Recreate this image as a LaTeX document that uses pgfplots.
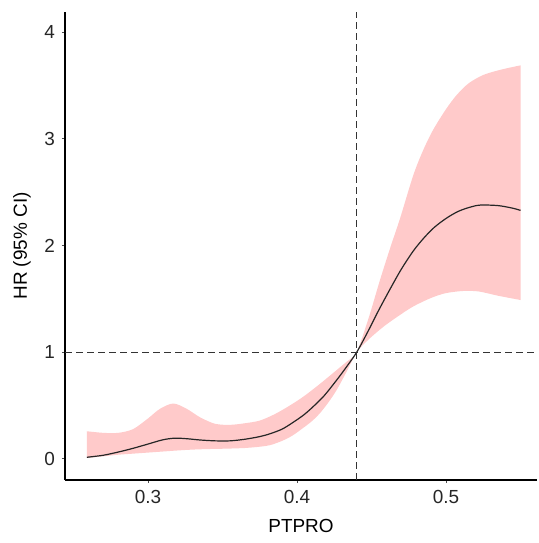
\documentclass[border=0pt]{standalone}
\usepackage{pgfplots}
\pgfplotsset{compat=1.18}
\usepgfplotslibrary{fillbetween}
\usepackage{fontspec}
\setmainfont{Liberation Sans}
\definecolor{bandfill}{HTML}{FFCACA}
\begin{document}
\begin{tikzpicture}
\begin{axis}[
  scale only axis,
  width=236bp, height=234bp,
  xmin=0.2443, xmax=0.561,
  ymin=-0.197, ymax=4.19,
  axis lines*=left,
  axis line style={line width=1.2bp, -},
  xtick={0.3,0.4,0.5},
  ytick={0,1,2,3,4},
  xticklabels={0.3,0.4,0.5},
  yticklabels={0,1,2,3,4},
  tick align=outside,
  major tick length=1.5bp,
  tick style={line width=0.5bp, black!70},
  ticklabel style={font=\fontsize{9.5}{10}\selectfont, text=black!85},
  xlabel={PTPRO}, ylabel={HR (95\% CI)},
  label style={font=\fontsize{9.5}{10}\selectfont},
  xlabel style={yshift=-1bp},
  clip=false,
]
\coordinate (SW) at (rel axis cs:0,0);
\coordinate (NE) at (rel axis cs:1,1);
\addplot[name path=upper, draw=none, smooth] coordinates {
(0.259,0.26) (0.27,0.245) (0.28,0.245) (0.29,0.28) (0.30,0.38) (0.308,0.47)
(0.317,0.52) (0.326,0.47) (0.335,0.39) (0.345,0.33) (0.355,0.32) (0.365,0.335)
(0.375,0.36) (0.385,0.42) (0.395,0.50) (0.4042,0.584) (0.415,0.70) (0.4266,0.834)
(0.434,0.92) (0.44,1.0) (0.448,1.32) (0.4557,1.68) (0.463,2.0)
(0.469,2.25) (0.478,2.66) (0.4848,2.90) (0.4915,3.09) (0.50,3.28) (0.507,3.41)
(0.515,3.52) (0.525,3.60) (0.537,3.65) (0.55,3.69)
};
\addplot[name path=lower, draw=none, smooth] coordinates {
(0.259,0.01) (0.27,0.025) (0.28,0.04) (0.29,0.05) (0.30,0.06) (0.31,0.07)
(0.32,0.08) (0.33,0.088) (0.34,0.093) (0.353,0.097) (0.365,0.103) (0.375,0.115)
(0.382,0.13) (0.39,0.17) (0.397,0.22) (0.404,0.29) (0.41,0.355) (0.4154,0.43)
(0.421,0.53) (0.4266,0.647) (0.4333,0.82) (0.44,1.0) (0.448,1.12) (0.458,1.24)
(0.468,1.34) (0.478,1.43) (0.49,1.51) (0.50,1.555) (0.5117,1.575) (0.522,1.57)
(0.535,1.53) (0.55,1.49)
};
\addplot[bandfill, draw=none] fill between[of=upper and lower];
\addplot[black!85, line width=0.6bp, smooth] coordinates {
(0.259,0.016) (0.27,0.035) (0.28,0.065) (0.29,0.10) (0.30,0.14) (0.31,0.18)
(0.318,0.195) (0.326,0.19) (0.335,0.178) (0.345,0.17) (0.355,0.17) (0.365,0.185)
(0.375,0.21) (0.382,0.237) (0.39,0.28) (0.397,0.34) (0.4042,0.41) (0.41,0.48)
(0.418,0.59) (0.4266,0.74) (0.433,0.86) (0.44,1.0) (0.447,1.18) (0.455,1.40) (0.4635,1.62)
(0.47,1.78) (0.478,1.95) (0.485,2.07) (0.492,2.17) (0.50,2.255) (0.508,2.32)
(0.516,2.36) (0.523,2.38) (0.535,2.375) (0.545,2.35) (0.55,2.33)
};
\addplot[black!80, line width=0.7bp, dash pattern=on 3.5bp off 2bp] coordinates {(0.44,-0.197) (0.44,4.19)};
\addplot[black!80, line width=0.7bp, dash pattern=on 3.5bp off 2bp] coordinates {(0.2443,1) (0.561,1)};
\end{axis}
\path ([xshift=-32.5bp,yshift=-31.5bp]SW) rectangle ([yshift=6bp]NE);
\end{tikzpicture}
\end{document}
